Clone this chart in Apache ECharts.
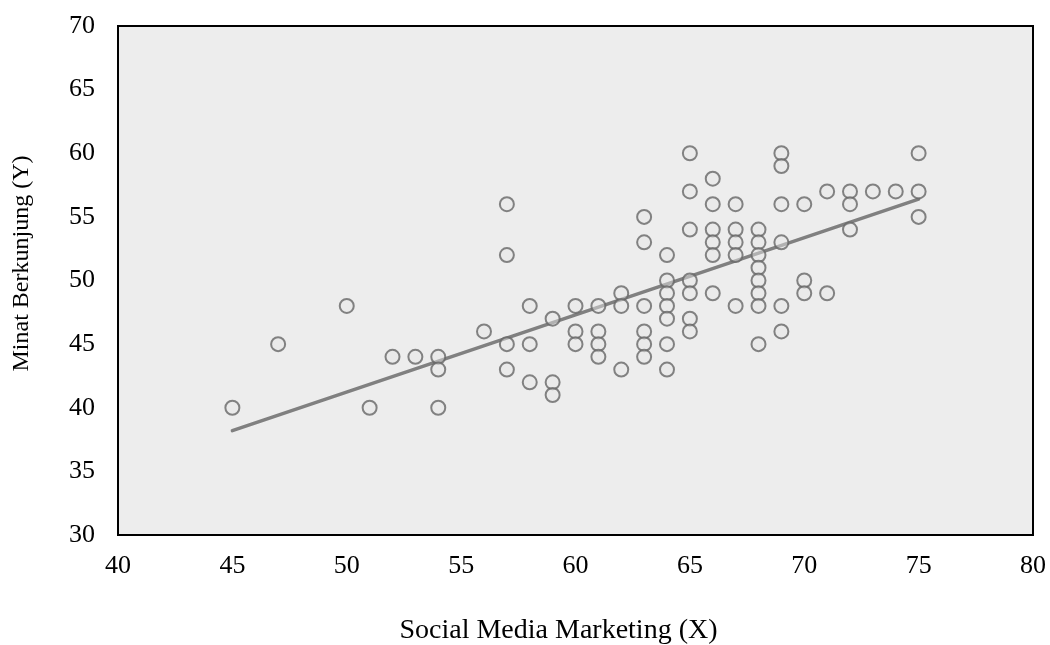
<!DOCTYPE html>
<html>
<head>
<meta charset="utf-8">
<script src="https://cdn.jsdelivr.net/npm/echarts@6/dist/echarts.min.js"></script>
<style>
    html, body { margin: 0; padding: 0; background: #ffffff; }
    #chart { width: 1050px; height: 645px; }
</style>
</head>
<body>
<div id="chart"></div>
<script>
    // X values (Social Media Marketing) and Y values (Minat Berkunjung), paired by index
    const smmX = [
        45, 47, 50, 51, 52, 53, 54, 54, 54, 56,
        57, 57, 57, 57, 58, 58, 58, 59, 59, 59,
        60, 60, 60, 61, 61, 61, 61, 62, 62, 62,
        63, 63, 63, 63, 63, 63,
        64, 64, 64, 64, 64, 64, 64,
        65, 65, 65, 65, 65, 65, 65,
        66, 66, 66, 66, 66, 66,
        67, 67, 67, 67, 67,
        68, 68, 68, 68, 68, 68, 68, 68,
        69, 69, 69, 69, 69, 69,
        70, 70, 70, 71, 71, 72, 72, 72, 73, 74, 75, 75, 75
    ];
    const minatY = [
        40, 45, 48, 40, 44, 44, 44, 43, 40, 46,
        56, 52, 45, 43, 48, 45, 42, 47, 42, 41,
        48, 46, 45, 48, 46, 45, 44, 49, 48, 43,
        55, 53, 48, 46, 45, 44,
        52, 50, 49, 48, 47, 45, 43,
        60, 57, 54, 50, 49, 47, 46,
        58, 56, 54, 53, 52, 49,
        56, 54, 53, 52, 48,
        54, 53, 52, 51, 50, 49, 48, 45,
        60, 59, 56, 53, 48, 46,
        56, 50, 49, 57, 49, 57, 56, 54, 57, 57, 60, 57, 55
    ];
    // trend line end points
    const trendX = [45, 75];
    const trendY = [38.2, 56.4];

    const xTicks = [40, 45, 50, 55, 60, 65, 70, 75, 80];
    const yTicks = [30, 35, 40, 45, 50, 55, 60, 65, 70];

    const font = '"Liberation Serif", "Times New Roman", serif';
    const chart = echarts.init(document.getElementById('chart'));

    const option = {
        animation: false,
        grid: {
            left: 118,
            right: 17,
            top: 26,
            bottom: 110,
            outerBoundsMode: 'none',
            containLabel: false,
            show: true,
            backgroundColor: '#ededed',
            borderColor: '#000000',
            borderWidth: 2
        },
        xAxis: {
            type: 'value',
            min: xTicks[0],
            max: xTicks[xTicks.length - 1],
            interval: 5,
            name: 'Social Media Marketing (X)',
            nameLocation: 'middle',
            nameGap: 82,
            nameTextStyle: { fontFamily: font, fontSize: 28, color: '#000', padding: [0, 34, 0, 0] },
            axisLine: { show: false },
            axisTick: { show: false },
            splitLine: { show: false },
            axisLabel: { fontFamily: font, fontSize: 26, color: '#000', margin: 18 }
        },
        yAxis: {
            type: 'value',
            min: yTicks[0],
            max: yTicks[yTicks.length - 1],
            interval: 5,
            name: 'Minat Berkunjung (Y)',
            nameLocation: 'middle',
            nameGap: 84,
            nameTextStyle: { fontFamily: font, fontSize: 24, color: '#000', padding: [0, 0, 0, 34] },
            axisLine: { show: false },
            axisTick: { show: false },
            splitLine: { show: false },
            axisLabel: { fontFamily: font, fontSize: 26, color: '#000', margin: 23 }
        },
        series: [
            {
                type: 'line',
                data: trendX.map((x, i) => [x, trendY[i]]),
                symbol: 'none',
                lineStyle: { color: '#808080', width: 3.5, cap: 'round' },
                z: 2
            },
            {
                type: 'scatter',
                data: smmX.map((x, i) => [x, minatY[i]]),
                symbol: 'circle',
                symbolSize: 14,
                itemStyle: {
                    color: 'rgba(230,230,230,0.6)',
                    borderColor: '#666666',
                    borderWidth: 2
                },
                z: 3
            }
        ]
    };
    chart.setOption(option);
</script>
</body>
</html>
